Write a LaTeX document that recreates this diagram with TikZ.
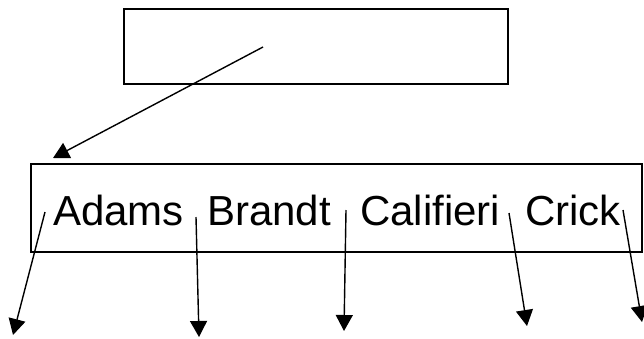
\documentclass[tikz,border=0pt]{standalone}
\usepackage{fontspec}
\setmainfont{Liberation Sans}
\usetikzlibrary{arrows.meta}
\begin{document}
\begin{tikzpicture}[x=1pt,y=-1pt,
  boxline/.style={draw=black,line width=1.5pt},
  ptr/.style={line width=1.4pt,-{Triangle[width=17pt,length=16pt]}},
  word/.style={anchor=base west,inner sep=0pt,font=\fontsize{42}{48}\selectfont}]
\useasboundingbox (0,0) rectangle (644,338);
\draw[boxline] (124,9) rectangle (508,84);
\draw[boxline] (31,164) rectangle (642,252);
\node[word] (adams) at (53,225) {Adams};
\node[word] (brandt) at (207,225) {Brandt};
\node[word] (calif) at (360,225) {Califieri};
\node[word] (crick) at (525,225) {Crick};
\coordinate (s0) at (263,47);
\coordinate (e0) at (53,158);
\coordinate (s1) at (45,212);
\coordinate (e1) at (13,335);
\coordinate (s2) at (196,217);
\coordinate (e2) at (199,337);
\coordinate (s3) at (346,210);
\coordinate (e3) at (344,331);
\coordinate (s4) at (509,213);
\coordinate (e4) at (527,326);
\coordinate (s5) at (623,210);
\coordinate (e5) at (642,322);
\draw[ptr] (s0) -- (e0);
\draw[ptr] (s1) -- (e1);
\draw[ptr] (s2) -- (e2);
\draw[ptr] (s3) -- (e3);
\draw[ptr] (s4) -- (e4);
\draw[ptr] (s5) -- (e5);
\end{tikzpicture}
\end{document}
